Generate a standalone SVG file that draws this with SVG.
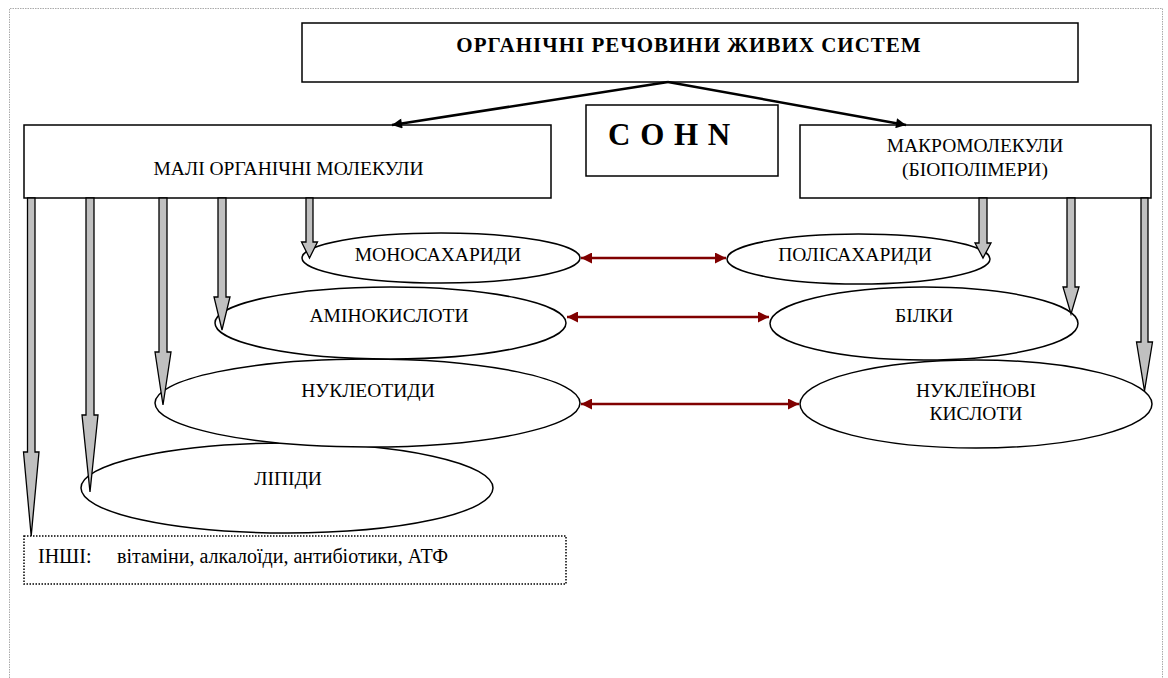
<svg xmlns="http://www.w3.org/2000/svg" width="1168" height="678" viewBox="0 0 1168 678">
<defs>
<style>
.box{fill:#fff;stroke:#000;stroke-width:1.5}
.ell{fill:#fff;stroke:#000;stroke-width:1.5}
.t{font-family:'Liberation Serif','DejaVu Serif',serif;font-size:19.5px;fill:#000;text-anchor:middle}
.s{font-family:'Liberation Serif','DejaVu Serif',serif;font-size:20px;fill:#000}
.ba{fill:#c0c0c0;stroke:#000;stroke-width:1.3;stroke-linejoin:miter}
.red{stroke:#800000;stroke-width:2.5;fill:none;marker-start:url(#rs);marker-end:url(#re)}
.blk{stroke:#000;stroke-width:2.5;fill:none;marker-end:url(#bk)}
</style>
<marker id="re" viewBox="0 0 10 10" refX="10" refY="5" markerWidth="6" markerHeight="4.4" orient="auto" markerUnits="strokeWidth"><path d="M0,0 L10,5 L0,10 Z" fill="#800000"/></marker>
<marker id="rs" viewBox="0 0 10 10" refX="0" refY="5" markerWidth="6" markerHeight="4.4" orient="auto" markerUnits="strokeWidth"><path d="M10,0 L0,5 L10,10 Z" fill="#800000"/></marker>
<marker id="bk" viewBox="0 0 10 10" refX="10" refY="5" markerWidth="6" markerHeight="4" orient="auto" markerUnits="strokeWidth"><path d="M0,0 L10,5 L0,10 Z" fill="#000"/></marker>
</defs>
<rect width="1168" height="678" fill="#fff"/>
<path d="M9.5,678 V8.5 H1162.5 V678" fill="none" stroke="#aaa" stroke-width="1" stroke-dasharray="1.5 1"/>

<g id="title">
<rect class="box" x="302" y="23" width="776" height="59"/>
<text class="t" x="689" y="52" style="font-weight:bold;font-size:21px;letter-spacing:1px">ОРГАНІЧНІ РЕЧОВИНИ ЖИВИХ СИСТЕМ</text>
</g>
<g id="small">
<rect class="box" x="24" y="125" width="527" height="73"/>
<text class="t" x="288.5" y="175">МАЛІ ОРГАНІЧНІ МОЛЕКУЛИ</text>
</g>
<g id="cohn">
<rect class="box" x="586" y="105" width="192" height="71"/>
<text class="s" x="608" y="145" style="font-weight:bold;font-size:31px;letter-spacing:1px">C O H N</text>
</g>
<g id="macro">
<rect class="box" x="800" y="125" width="351" height="73"/>
<text class="t" x="975" y="152">МАКРОМОЛЕКУЛИ</text>
<text class="t" x="975" y="176">(БІОПОЛІМЕРИ)</text>
</g>

<g id="lipidy">
<ellipse class="ell" cx="287" cy="488" rx="206" ry="45"/>
<text class="t" x="288" y="485">ЛІПІДИ</text>
</g>
<g id="nukleotydy">
<ellipse class="ell" cx="367.5" cy="403" rx="212.5" ry="44"/>
<text class="t" x="368" y="397">НУКЛЕОТИДИ</text>
</g>
<g id="aminokysloty">
<ellipse class="ell" cx="390.5" cy="323" rx="175.5" ry="36"/>
<text class="t" x="389" y="322">АМІНОКИСЛОТИ</text>
</g>
<g id="monosakharydy">
<ellipse class="ell" cx="441" cy="258" rx="139" ry="25"/>
<text class="t" x="438" y="261">МОНОСАХАРИДИ</text>
</g>
<g id="nukleinovi">
<ellipse class="ell" cx="976" cy="404" rx="176" ry="44"/>
<text class="t" x="976" y="397">НУКЛЕЇНОВІ</text>
<text class="t" x="976" y="420">КИСЛОТИ</text>
</g>
<g id="bilky">
<ellipse class="ell" cx="924" cy="323.5" rx="154" ry="36.5"/>
<text class="t" x="924" y="322">БІЛКИ</text>
</g>
<g id="polisakharydy">
<ellipse class="ell" cx="858.5" cy="259" rx="131.5" ry="25"/>
<text class="t" x="855" y="261">ПОЛІСАХАРИДИ</text>
</g>
<g id="inshi">
<rect x="24" y="536" width="542" height="48" fill="#fff" stroke="#000" stroke-width="1.5" stroke-dasharray="1.5 1.5"/>
<text class="s" x="38" y="563">ІНШІ:</text>
<text class="s" x="117" y="563">вітаміни, алкалоїди, антибіотики, АТФ</text>
</g>

<g id="connectors">
<line class="blk" x1="668" y1="82" x2="392" y2="125"/>
<line class="blk" x1="668" y1="82" x2="906" y2="125"/>
<path class="ba" d="M27.5,198 H35 V452 H39 L31.2,536 L23.5,452 H27.5 Z"/>
<path class="ba" d="M86,198 H94 V415 H98 L90,492 L82,415 H86 Z"/>
<path class="ba" d="M159,198 H167 V352 H171 L163,405 L155,352 H159 Z"/>
<path class="ba" d="M218,198 H226 V297 H230 L222,330 L214,297 H218 Z"/>
<path class="ba" d="M306,198 H313 V242 H317.5 L309.5,258 L301.5,242 H306 Z"/>
<path class="ba" d="M979,198 H987 V243 H991 L983,258 L975,243 H979 Z"/>
<path class="ba" d="M1067,198 H1075 V287 H1079 L1071,314 L1063,287 H1067 Z"/>
<path class="ba" d="M1141,198 H1148 V342 H1152.5 L1144.5,391 L1136.5,342 H1141 Z"/>
<line class="red" x1="581" y1="258" x2="726" y2="258"/>
<line class="red" x1="567" y1="317" x2="769" y2="317"/>
<line class="red" x1="581" y1="404" x2="799" y2="404"/>
</g>
</svg>
